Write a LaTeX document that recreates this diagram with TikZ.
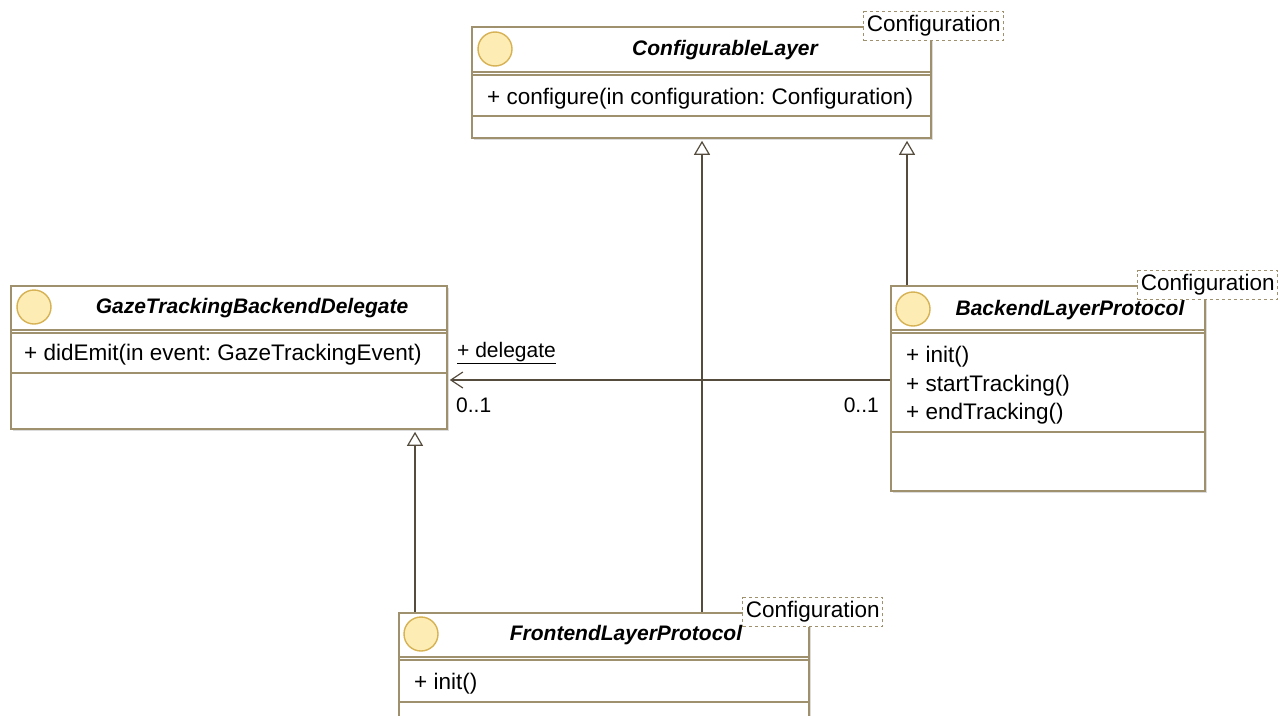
\documentclass[tikz,border=0pt]{standalone}
\usepackage{fontspec}
\setmainfont{Liberation Sans}
\usetikzlibrary{arrows.meta,positioning,shadows}
\frenchspacing

\definecolor{umlframe}{RGB}{160,145,110}
\definecolor{umllink}{RGB}{85,76,62}
\definecolor{umlicon}{RGB}{253,236,180}
\definecolor{umliconrim}{RGB}{214,178,84}

\tikzset{
  classbox/.style={draw=umlframe, line width=1.8pt, fill=white, anchor=north west,
    inner sep=0pt, drop shadow={shadow xshift=2pt, shadow yshift=-2pt, fill=black!30, opacity=.45}},
  hdrline/.style={draw=umlframe, line width=2pt},
  sepline/.style={draw=umlframe, line width=1.3pt},
  ifcicon/.style={circle, draw=umliconrim, line width=1.4pt, fill=umlicon, minimum size=34pt, inner sep=0pt},
  classname/.style={font=\fontsize{21}{25}\selectfont\bfseries\itshape},
  member/.style={anchor=west, inner sep=0pt, font=\fontsize{22.5}{27}\selectfont},
  tparam/.style={draw=umlframe, dashed, line width=1.1pt, fill=white, inner xsep=3pt,
    minimum height=29pt, font=\fontsize{22.5}{27}\selectfont},
  realize/.style={draw=umllink, line width=1.5pt, shorten >=2pt,
    -{Triangle[open, length=14pt, width=16pt, line width=1.2pt]}},
  assoc/.style={draw=umllink, line width=1.5pt, shorten >=2pt,
    -{Straight Barb[length=12pt, width=16pt, line width=1.2pt]}},
  endlabel/.style={inner sep=0pt, font=\fontsize{21}{25}\selectfont}
}

\begin{document}
\begin{tikzpicture}[x=1pt, y=-1pt]
    \clip (0,0) rectangle (1288,715);
    \fill[white] (0,0) rectangle (1288,715);

    % ConfigurableLayer
    \node[classbox, minimum width=459pt, minimum height=111pt] (cfg) at (471,26) {};
    \draw[hdrline] (471,72) -- (930,72);
    \draw[sepline] (471,75) -- (930,75);
    \draw[sepline] (471,116) -- (930,116);
    \node[ifcicon] (cfgicon) at (495,49) {};
    \node[classname] (cfgname) at (725,50) {ConfigurableLayer};
    \node[member] (cfgop) at (487,99) {+ configure(in configuration: Configuration)};
    \node[tparam] (cfgtag) at ([xshift=2pt]cfg.north east) {Configuration};

    % GazeTrackingBackendDelegate
    \node[classbox, minimum width=436pt, minimum height=143pt] (gaze) at (10,285) {};
    \draw[hdrline] (10,330) -- (446,330);
    \draw[sepline] (10,333) -- (446,333);
    \draw[sepline] (10,373) -- (446,373);
    \node[ifcicon] (gazeicon) at (34,307) {};
    \node[classname] (gazename) at (252,308) {GazeTrackingBackendDelegate};
    \node[member] (gazeop) at (24,355) {+ didEmit(in event: GazeTrackingEvent)};

    % BackendLayerProtocol
    \node[classbox, minimum width=314pt, minimum height=205pt] (back) at (890,285) {};
    \draw[hdrline] (890,330) -- (1204,330);
    \draw[sepline] (890,333) -- (1204,333);
    \draw[sepline] (890,432) -- (1204,432);
    \node[ifcicon] (backicon) at (913,309) {};
    \node[classname] (backname) at (1070,310) {BackendLayerProtocol};
    \node[member] (backinit) at (906,357) {+ init()};
    \node[member] (backstart) at (906,386) {+ startTracking()};
    \node[member] (backend) at (906,414) {+ endTracking()};
    \node[tparam] (backtag) at ([xshift=2pt]back.north east) {Configuration};

    % FrontendLayerProtocol
    \node[classbox, minimum width=410pt, minimum height=130pt] (front) at (398,612) {};
    \draw[hdrline] (398,657) -- (808,657);
    \draw[sepline] (398,660) -- (808,660);
    \draw[sepline] (398,702) -- (808,702);
    \node[ifcicon] (fronticon) at (421,634) {};
    \node[classname] (frontname) at (626,635) {FrontendLayerProtocol};
    \node[member] (frontinit) at (414,684) {+ init()};
    \node[tparam] (fronttag) at ([xshift=3pt]front.north east) {Configuration};

    % realizations
    \coordinate (fcol) at (702,0);
    \coordinate (bcol) at (907,0);
    \coordinate (gcol) at (415,0);
    \draw[realize] (front.north -| fcol) -- (cfg.south -| fcol);
    \draw[realize] (back.north -| bcol) -- (cfg.south -| bcol);
    \draw[realize] (front.north -| gcol) -- (gaze.south -| gcol);

    % delegate association
    \coordinate (arow) at (0,380);
    \draw[assoc] (back.west |- arow) -- (gaze.east |- arow);
    \node[endlabel, anchor=west] (dlgrole) at (457,353) {\underline{+ delegate}};
    \node[endlabel, anchor=west] (gazemult) at (456,405) {0..1};
    \node[endlabel, anchor=east] (backmult) at (879,405) {0..1};
\end{tikzpicture}
\end{document}
